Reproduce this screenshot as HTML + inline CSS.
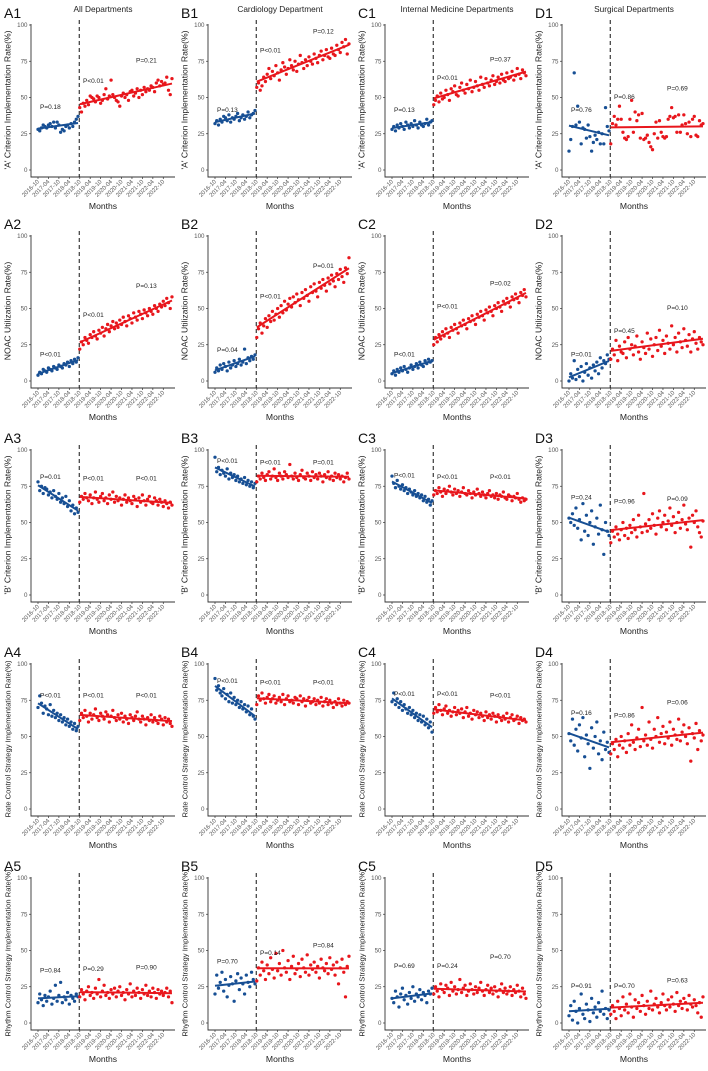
<!DOCTYPE html>
<html><head><meta charset="utf-8"><style>
body{margin:0;background:#fff}
svg{display:block;font-family:"Liberation Sans",sans-serif}
</style></head><body>
<svg id="chart" width="708" height="1071" viewBox="0 0 708 1071"></svg>
<script>
const colLetters=["A","B","C","D"];
const colTitles=["All Departments","Cardiology Department","Internal Medicine Departments","Surgical Departments"];
const rowTitles=["'A' Criterion Implementation Rate(%)","NOAC Utilization Rate(%)","'B' Criterion Implementation Rate(%)","Rate Control Strategy Implementation Rate(%)","Rhythm Control Strategy Implementation Rate(%)"];
const yTicks=[0,25,50,75,100];
const xTickLabels=["2016-10","2017-04","2017-10","2018-04","2018-10","2019-04","2019-10","2020-04","2020-10","2021-04","2021-10","2022-04","2022-10"];
// pre-intervention series (24 months), row-major: A1,B1,C1,D1,A2,...
const preData=[
[28,27,29,31,30,29,31,32,30,33,29,33,31,26,28,27,30,31,29,32,30,33,35,37],
[32,34,31,35,33,37,36,34,38,33,36,35,37,39,34,36,38,35,37,40,36,38,39,41],
[28,30,27,31,29,32,30,28,33,31,29,32,30,34,31,29,33,31,30,32,35,31,33,34],
[13,21,30,67,31,44,33,18,29,28,22,31,23,13,19,24,21,26,18,25,18,43,30,27],
[4,6,5,8,7,6,9,8,7,10,9,8,11,10,9,12,11,13,10,14,12,15,13,16],
[6,9,7,11,8,12,10,7,13,9,11,14,10,12,15,11,13,22,12,16,14,17,15,18],
[5,7,4,8,6,9,7,10,8,6,9,11,8,10,12,9,13,11,10,14,12,15,13,14],
[0,5,2,14,1,8,3,10,0,6,12,4,9,2,11,7,13,5,16,9,14,12,18,15],
[78,72,75,70,74,73,69,71,67,72,68,66,70,64,67,63,68,61,65,58,62,56,60,57],
[95,85,88,83,86,84,82,87,80,84,81,83,79,82,78,80,77,81,76,79,75,78,74,77],
[82,77,74,79,75,73,76,72,74,70,73,71,69,72,68,70,67,69,65,68,64,66,62,65],
[53,50,56,48,60,46,52,38,63,44,55,41,50,58,35,47,53,42,62,45,28,50,44,41],
[70,78,73,66,71,69,65,72,64,68,63,66,61,65,60,63,58,62,57,60,55,59,54,57],
[90,82,85,80,78,83,76,79,74,80,73,77,72,75,70,74,69,72,67,71,65,69,64,62],
[74,80,72,76,70,74,68,72,69,66,70,65,68,63,66,61,65,60,64,58,62,56,60,53],
[52,47,62,44,55,40,58,49,63,36,51,45,28,56,42,50,60,38,47,34,53,41,46,39],
[14,20,16,12,19,15,18,22,13,17,26,15,19,28,14,18,16,21,13,19,17,15,20,18],
[20,33,24,28,35,22,30,18,26,32,27,15,29,34,23,31,27,20,33,28,25,35,30,27],
[17,14,22,18,11,20,24,16,19,13,21,17,25,15,20,18,23,16,21,19,14,22,20,24],
[5,12,2,15,8,0,10,20,6,3,13,9,1,17,7,11,4,14,8,22,6,10,3,9]];
// post-intervention series (54 months)
const postData=[
[43,40,46,44,48,45,51,50,49,47,51,50,46,48,52,56,49,51,62,52,50,48,47,44,51,53,50,52,48,54,55,51,53,56,50,55,52,57,54,56,55,58,57,54,60,62,58,61,59,60,64,55,52,63],
[57,60,55,58,64,61,66,70,63,68,65,72,67,62,69,74,71,66,70,76,72,69,75,68,73,79,74,70,76,72,78,75,73,80,77,74,79,82,76,79,83,78,77,84,80,79,86,83,81,88,85,90,80,87],
[45,48,51,47,53,49,50,55,52,48,56,54,58,52,51,57,60,55,53,59,56,62,54,57,61,58,55,64,59,57,63,60,58,62,65,59,61,64,60,66,62,61,67,63,64,68,62,65,70,66,63,69,67,65],
[18,32,37,31,35,44,35,26,22,21,23,35,48,26,40,34,38,22,39,21,22,24,19,16,14,25,33,22,34,26,23,22,23,35,37,43,36,37,26,38,26,31,38,32,25,33,23,35,37,24,23,34,31,32],
[22,27,25,30,28,26,32,30,34,31,29,35,33,37,31,36,39,34,38,41,36,40,37,42,39,44,41,38,45,43,40,47,44,42,48,46,43,49,47,45,50,48,46,52,50,48,53,51,55,52,57,54,50,58],
[30,36,40,33,38,43,37,45,41,48,42,46,50,44,52,47,55,49,53,57,51,58,54,60,56,52,61,57,63,59,55,65,61,67,62,58,68,64,70,66,62,71,67,73,69,65,74,70,77,72,68,78,74,85],
[25,30,27,32,29,34,31,36,33,30,37,35,39,36,33,40,38,42,39,36,43,41,45,42,39,46,44,48,45,42,49,47,51,48,45,52,50,54,51,48,55,53,57,54,51,58,56,60,57,54,61,59,63,58],
[15,22,18,28,14,24,20,19,27,16,30,22,25,18,24,31,20,15,27,23,19,33,22,29,17,25,30,21,35,24,28,19,31,26,22,38,25,30,20,33,27,23,36,28,24,32,20,29,34,26,22,30,27,25],
[64,68,66,70,67,65,69,63,67,71,66,64,68,70,65,67,63,69,66,71,64,68,65,67,62,66,69,64,67,65,63,68,66,61,67,64,69,65,62,66,68,64,63,67,65,62,66,64,61,65,63,60,64,62],
[78,82,80,84,81,79,83,85,80,82,87,81,79,84,82,80,85,83,81,90,82,80,84,81,79,83,86,81,80,84,82,79,85,81,83,80,84,82,78,83,81,85,80,82,79,84,81,83,80,82,78,81,84,80],
[69,72,70,74,71,68,73,70,72,75,71,69,73,70,72,68,71,74,70,69,72,70,67,71,69,73,70,68,71,69,67,70,72,68,69,67,70,66,69,68,71,67,66,69,68,65,68,67,70,66,64,67,65,66],
[36,44,40,47,42,38,45,50,41,46,39,48,43,52,45,40,55,47,43,70,49,44,52,46,56,48,42,53,58,47,50,55,45,51,60,48,54,43,50,57,46,52,62,49,45,53,33,55,50,58,47,43,40,51],
[61,66,63,68,64,60,66,62,65,69,63,61,66,64,62,67,65,60,64,68,63,61,65,62,66,60,64,62,59,65,63,61,64,67,62,60,64,62,58,63,61,65,60,63,61,59,64,62,58,63,60,62,59,57],
[72,78,75,80,76,73,77,79,74,76,78,73,75,77,74,79,72,76,78,74,75,73,77,76,72,78,74,76,71,75,77,73,74,76,72,75,73,77,71,74,76,72,75,73,70,74,72,76,73,71,75,72,74,73],
[66,70,67,72,68,65,69,71,66,68,64,67,70,65,68,66,69,63,67,70,64,66,62,68,65,67,63,66,64,61,67,63,65,62,66,64,60,65,63,61,64,62,66,60,63,65,61,62,64,59,63,61,62,60],
[38,45,41,48,36,44,50,42,47,39,52,44,58,46,41,49,55,43,70,47,51,44,60,48,42,55,50,63,46,52,57,45,53,49,60,44,55,51,48,62,47,53,58,50,45,56,33,52,49,59,41,54,47,51],
[18,23,20,16,22,25,19,21,17,24,20,30,18,22,26,19,21,17,23,20,24,18,22,25,19,21,16,23,20,27,18,22,19,24,21,17,23,20,26,19,22,18,24,21,17,23,20,22,19,21,24,18,22,14],
[29,38,33,42,36,30,40,34,45,37,31,48,36,41,33,50,38,35,43,30,39,46,34,37,41,32,44,38,35,47,33,40,37,42,35,39,31,44,38,36,41,34,45,37,40,33,42,27,38,44,35,18,39,46],
[20,25,22,18,27,23,21,26,24,19,28,22,25,20,23,30,21,24,26,19,22,27,23,20,25,21,24,28,22,19,23,26,21,24,20,25,22,18,23,27,21,24,20,22,25,19,23,21,26,22,18,24,20,17],
[6,12,8,3,15,10,5,18,9,13,7,20,11,4,16,10,14,8,19,12,6,15,10,22,9,13,17,11,7,14,20,12,9,16,11,18,13,8,21,12,15,10,17,14,9,19,13,11,16,12,7,14,4,18]];
const pLabels=[
["P=0.18","P<0.01","P=0.21"],["P=0.13","P<0.01","P=0.12"],["P=0.13","P<0.01","P=0.37"],["P=0.76","P=0.86","P=0.69"],
["P<0.01","P<0.01","P=0.13"],["P=0.04","P<0.01","P=0.01"],["P<0.01","P<0.01","P=0.02"],["P=0.01","P=0.45","P=0.10"],
["P=0.01","P<0.01","P<0.01"],["P<0.01","P<0.01","P=0.01"],["P<0.01","P<0.01","P<0.01"],["P=0.24","P=0.96","P=0.09"],
["P<0.01","P<0.01","P<0.01"],["P<0.01","P<0.01","P<0.01"],["P<0.01","P<0.01","P<0.01"],["P=0.16","P=0.86","P=0.06"],
["P=0.84","P=0.29","P=0.90"],["P=0.70","P=0.14","P=0.84"],["P=0.69","P=0.24","P=0.70"],["P=0.91","P=0.70","P=0.63"]];
const pHeights=[
[42,60,74],[40,81,94],[40,62,75],[40,49,55],
[17,44,64],[20,57,78],[17,50,66],[17,33,49],
[80,79,79],[91,90,90],[81,80,80],[66,63,65],
[77,77,77],[87,86,86],[78,78,77],[65,63,72],
[35,36,37],[41,47,52],[38,38,44],[24,24,28]];

const NS="http://www.w3.org/2000/svg";
const svg=document.getElementById('chart');
function mk(tag,attrs,parent,text){const e=document.createElementNS(NS,tag);for(const k in attrs)e.setAttribute(k,attrs[k]);if(text!==undefined)e.textContent=text;(parent||svg).appendChild(e);return e;}
function fit(ys,x0){const n=ys.length;let sx=0,sy=0,sxx=0,sxy=0;ys.forEach((y,i)=>{const x=x0+i;sx+=x;sy+=y;sxx+=x*x;sxy+=x*y;});const b=(n*sxy-sx*sy)/(n*sxx-sx*sx);return {a:(sy-b*sx)/n,b:b};}
const colX=[0,177,354,531], rowY=[0,211,425,639,853];
const BLUE="#174f94", RED="#e8161c";
for(let r=0;r<5;r++)for(let c=0;c<4;c++){
  const k=r*4+c, ox=colX[c], oy=rowY[r];
  const g=mk('g',{});  
  const X=i=>ox+38+i*1.74, Y=v=>oy+170-v*1.45;
  const lab=mk('text',{x:ox+4,y:oy+18,'font-size':14,fill:'#111'},g,colLetters[c]+(r+1));
   
  if(r===0){const t=mk('text',{x:ox+103,y:oy+12,'font-size':8.3,'text-anchor':'middle',fill:'#222'},g,colTitles[c]);}
  const ax=mk('path',{d:`M${ox+31} ${oy+24}V${oy+177}H${ox+175}`,stroke:'#333','stroke-width':0.9,fill:'none'},g);
   
  yTicks.forEach(v=>{mk('line',{x1:ox+29,x2:ox+31,y1:Y(v),y2:Y(v),stroke:'#333','stroke-width':0.7},g);
    const t=mk('text',{x:ox+27.5,y:Y(v)+2,'font-size':6.2,'text-anchor':'end',fill:'#555'},g,v);});
  xTickLabels.forEach((s,i)=>{const x=X(i*6);mk('line',{x1:x,x2:x,y1:oy+177,y2:oy+179,stroke:'#333','stroke-width':0.7},g);
    const t=mk('text',{x:x+1.5,y:oy+182,'font-size':5.9,'text-anchor':'end',fill:'#555',transform:`rotate(-45 ${x+1.5} ${oy+182})`},g,s);});
  const yt=mk('text',{x:0,y:0,'font-size':rowTitles[r].length>40?7.6:8.6,'text-anchor':'middle',fill:'#222',transform:`translate(${ox+10.5} ${oy+100}) rotate(-90)`},g,rowTitles[r]);
   
  const xt=mk('text',{x:ox+103,y:oy+209,'font-size':8.6,'text-anchor':'middle',fill:'#222'},g,'Months');
   
  const dl=mk('line',{x1:X(23.7),x2:X(23.7),y1:oy+20,y2:oy+177,stroke:'#111','stroke-width':1,'stroke-dasharray':'4,3'},g);
   
  preData[k].forEach((v,i)=>{const p=mk('circle',{cx:X(i),cy:Y(v),r:1.65,fill:BLUE},g);});
  postData[k].forEach((v,i)=>{const p=mk('circle',{cx:X(24+i),cy:Y(v),r:1.65,fill:RED},g);});
  const f1=fit(preData[k],0), n1=preData[k].length-1;
  const l1=mk('line',{x1:X(0),y1:Y(f1.a),x2:X(n1),y2:Y(f1.a+f1.b*n1),stroke:BLUE,'stroke-width':2},g);
   
  const f2=fit(postData[k],24), e2=24+postData[k].length-1;
  const l2=mk('line',{x1:X(24),y1:Y(f2.a+f2.b*24),x2:X(e2),y2:Y(f2.a+f2.b*e2),stroke:RED,'stroke-width':2},g);
   
  const px=[ox+40,ox+83,ox+136];
  pLabels[k].forEach((s,j)=>{const t=mk('text',{x:px[j],y:Y(pHeights[k][j]),'font-size':6.5,fill:'#222'},g,s);});
}
</script>
</body></html>
